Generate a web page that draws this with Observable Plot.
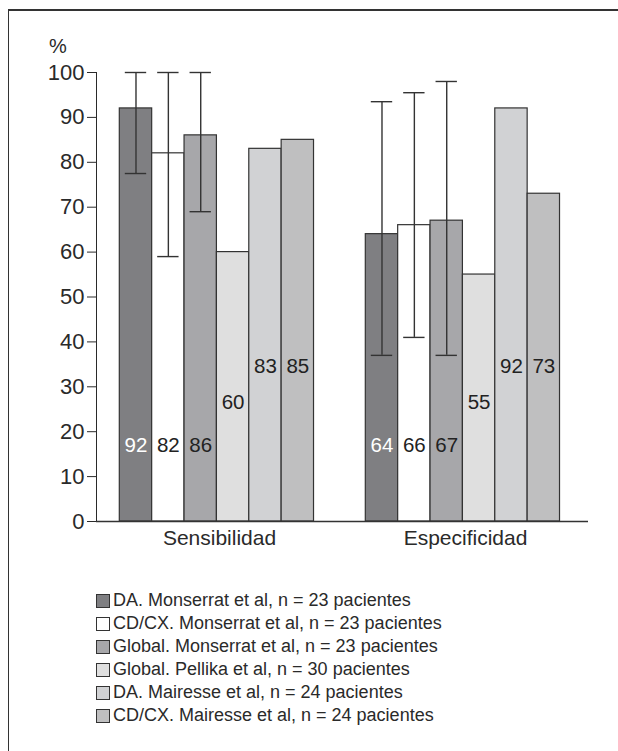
<!DOCTYPE html>
<html>
<head>
<meta charset="utf-8">
<script src="https://cdn.jsdelivr.net/npm/d3@7"></script>
<script src="https://cdn.jsdelivr.net/npm/@observablehq/plot@0.6"></script>
<style>
  html, body { margin: 0; padding: 0; background: #fff; }
  body { width: 618px; height: 751px; position: relative; overflow: hidden; font-family: "Liberation Sans", Arial, Helvetica, sans-serif; color: #2a2a2a; }
  #frame { position: absolute; left: 8px; top: 9px; width: 620px; height: 760px; border-top: 2px solid #333; border-left: 1.5px solid #333; }
  #chart { position: absolute; left: 0; top: 0; }
  #ylab { position: absolute; left: 49px; top: 35px; font-size: 20px; }
  #legend { position: absolute; left: 96px; top: 589px; font-size: 18px; line-height: 23px; }
  .row { display: flex; align-items: center; height: 23px; }
  .sw { width: 12px; height: 12px; border: 1px solid #333; margin-right: 3px; box-sizing: content-box; }
  #chart g[aria-label="y-axis tick label"] text { font-size: 22px; }
  #chart g[aria-label="fx-axis tick label"] text, #chart g[aria-label="fx-axis"] text { font-size: 21px; }
</style>
</head>
<body>
<div id="frame"></div>
<div id="ylab">%</div>
<div id="chart"></div>
<div id="legend"></div>
<script>
// ---- data ----
const groups = ["Sensibilidad", "Especificidad"];
const series = [
  "DA. Monserrat et al, n = 23 pacientes",
  "CD/CX. Monserrat et al, n = 23 pacientes",
  "Global. Monserrat et al, n = 23 pacientes",
  "Global. Pellika et al, n = 30 pacientes",
  "DA. Mairesse et al, n = 24 pacientes",
  "CD/CX. Mairesse et al, n = 24 pacientes"
];
const sensibilidad = [92, 82, 86, 60, 83, 85];
const especificidad = [64, 66, 67, 55, 92, 73];
// confidence intervals (only Monserrat series)
const sensLow  = [77.5, 59, 69, null, null, null];
const sensHigh = [100, 100, 100, null, null, null];
const espLow   = [37, 41, 37, null, null, null];
const espHigh  = [93.5, 95.5, 98, null, null, null];
const yTicks = [0, 10, 20, 30, 40, 50, 60, 70, 80, 90, 100];

// ---- styling ----
const colors = ["#7f7f82", "#ffffff", "#a7a7aa", "#dfdfdf", "#d1d2d4", "#bfbfc0"];
const labelColors = ["#ffffff", "#222", "#222", "#222", "#222", "#222"];
const labelAt = [17, 17, 17, 26.5, 34.5, 34.5]; // vertical placement of value labels

const rows = [];
groups.forEach((g, gi) => {
  const vals = gi === 0 ? sensibilidad : especificidad;
  const lo = gi === 0 ? sensLow : espLow;
  const hi = gi === 0 ? sensHigh : espHigh;
  series.forEach((s, i) => rows.push({group: g, series: s, idx: i, value: vals[i], lo: lo[i], hi: hi[i], ly: labelAt[i]}));
});
const ci = rows.filter(d => d.lo != null);

const plot = Plot.plot({
  width: 618,
  height: 560,
  marginLeft: 96,
  marginRight: 30,
  marginTop: 72,
  marginBottom: 39,
  style: {fontFamily: "'Liberation Sans', Arial, sans-serif", fontSize: "21px", color: "#2a2a2a", background: "transparent"},
  fx: {domain: groups, padding: 0, axis: "bottom", tickSize: 0, tickPadding: 9, label: null},
  x: {domain: series, axis: null, paddingInner: 0, paddingOuter: 0.8, align: 0.45, round: false},
  y: {domain: [0, 100], ticks: yTicks, tickSize: 9, tickPadding: 3, label: null, line: true},
  color: {domain: series, range: colors},
  marks: [
    Plot.barY(rows, {fx: "group", x: "series", y: "value", fill: "series", stroke: "#333", strokeWidth: 1.2}),
    Plot.ruleX(ci, {fx: "group", x: "series", y1: "lo", y2: "hi", stroke: "#333", strokeWidth: 1.4}),
    Plot.tickY(ci, {fx: "group", x: "series", y: "lo", stroke: "#333", strokeWidth: 1.4, insetLeft: 5.5, insetRight: 5.5}),
    Plot.tickY(ci, {fx: "group", x: "series", y: "hi", stroke: "#333", strokeWidth: 1.4, insetLeft: 5.5, insetRight: 5.5}),
    Plot.ruleY([0], {stroke: "#333", strokeWidth: 1.4}),
    Plot.text(rows, {fx: "group", x: "series", y: "ly", text: d => String(d.value), fill: d => labelColors[d.idx], fontSize: 20.5})
  ]
});
document.getElementById("chart").appendChild(plot);

const legend = document.getElementById("legend");
series.forEach((s, i) => {
  const r = document.createElement("div");
  r.className = "row";
  const sw = document.createElement("span");
  sw.className = "sw";
  sw.style.background = colors[i];
  const t = document.createElement("span");
  t.textContent = s;
  r.appendChild(sw);
  r.appendChild(t);
  legend.appendChild(r);
});
</script>
</body>
</html>
